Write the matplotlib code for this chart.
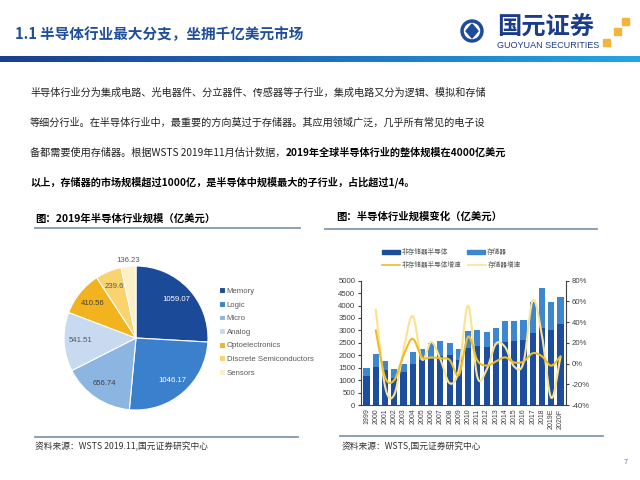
import numpy as np
import matplotlib.pyplot as plt
from matplotlib.patches import Patch, Circle, Rectangle, Polygon
from matplotlib.lines import Line2D
from matplotlib.colors import LinearSegmentedColormap

plt.rcParams['font.family'] = ['Noto Sans CJK SC', 'DejaVu Sans']

# ---- pie data ----
pie_labels = ['Memory', 'Logic', 'Micro', 'Analog', 'Optoelectronics',
              'Discrete Semiconductors', 'Sensors']
pie_values = [1059.07, 1046.17, 656.74, 541.51, 410.56, 239.6, 136.23]
pie_colors = ['#1A4A98', '#3B80CC', '#8DB5E2', '#C7DAF0', '#F2B31E', '#FAD36E', '#FDEFC6']

# ---- bar / line data ----
years = ['1999', '2000', '2001', '2002', '2003', '2004', '2005', '2006', '2007', '2008',
         '2009', '2010', '2011', '2012', '2013', '2014', '2015', '2016', '2017', '2018',
         '2019E', '2020F']
non_memory = [1170, 1540, 1400, 1100, 1320, 1640, 1800, 1860, 1960, 2010, 1800,
              2290, 2370, 2330, 2400, 2550, 2570, 2610, 2880, 3110, 3020, 3240]
memory = [330, 520, 380, 330, 340, 490, 470, 630, 600, 480, 460,
          700, 630, 590, 680, 830, 800, 800, 1270, 1610, 1110, 1120]
# growth rates start in 2000
non_memory_growth = [32, -13, -16, 8, 24, 6, 6, 5, 3.5, -11, 26, 3, -2, 2, 6, 1, 2, 10, 7, -2, 7]
memory_growth = [52, -22, -30, 13, 46, 4, 21, 4, -19, -6, 56, -13, -6, 19, 16, -3, 1, 61, 27, -33, 6]

W, H = 640, 480
LAT = 'Liberation Sans'


def fx(x):
    return x / W


def fy(y):
    return 1 - y / H


def smooth(x, y, n=20):
    # catmull-rom curve through the points, like excel's smoothed line
    x = np.asarray(x, float)
    y = np.asarray(y, float)
    px = np.r_[2 * x[0] - x[1], x, 2 * x[-1] - x[-2]]
    py = np.r_[2 * y[0] - y[1], y, 2 * y[-1] - y[-2]]
    xs, ys = [], []
    t = np.linspace(0, 1, n, endpoint=False)
    for i in range(1, len(px) - 2):
        for p, out in ((px, xs), (py, ys)):
            p0, p1, p2, p3 = p[i - 1], p[i], p[i + 1], p[i + 2]
            out.extend(0.5 * (2 * p1 + (-p0 + p2) * t + (2 * p0 - 5 * p1 + 4 * p2 - p3) * t ** 2
                              + (-p0 + 3 * p1 - 3 * p2 + p3) * t ** 3))
    xs.append(x[-1])
    ys.append(y[-1])
    return np.array(xs), np.array(ys)


fig = plt.figure(figsize=(6.4, 4.8), dpi=100)

# ---- header ----
fig.text(fx(15), fy(34), '1.1 半导体行业最大分支，坐拥千亿美元市场', fontsize=10.5,
         fontweight='bold', color='#1F4E9C', va='center')
gax = fig.add_axes([0, fy(62), 1, 6 / H])
grad = np.linspace(0, 1, 256).reshape(1, -1)
cmap = LinearSegmentedColormap.from_list('hdr', ['#1B3F8C', '#1F6FC0', '#22A6E6'])
gax.imshow(grad, aspect='auto', cmap=cmap)
gax.set_axis_off()

# logo
lax = fig.add_axes([0, 0, 1, 1], facecolor='none')
lax.set_xlim(0, W)
lax.set_ylim(H, 0)
lax.set_axis_off()
lax.add_patch(Circle((472, 31), 11, color='#1E4A9A'))
lax.add_patch(Circle((472, 31), 7.5, color='white'))
lax.add_patch(Polygon([(472, 24), (478, 31), (472, 38), (466, 31)], color='#1E4A9A'))
lax.text(497, 28, '国元证券', fontsize=17.5, fontweight='bold', color='#1A3C8A', va='center')
lax.text(497, 45, 'GUOYUAN SECURITIES', fontsize=6.5, color='#1A3C8A', va='center', family=LAT)
for sx, sy in [(622, 18), (614, 28), (603, 39)]:
    lax.add_patch(Rectangle((sx, sy), 6.5, 6.5, color='#F4B43A'))

# ---- body text ----
body_size = 7.3
fig.text(fx(30), fy(93), '半导体行业分为集成电路、光电器件、分立器件、传感器等子行业，集成电路又分为逻辑、模拟和存储',
         fontsize=body_size, color='#222222', va='center')
fig.text(fx(30), fy(123), '等细分行业。在半导体行业中，最重要的方向莫过于存储器。其应用领域广泛，几乎所有常见的电子设',
         fontsize=body_size, color='#222222', va='center')
t3 = fig.text(fx(30), fy(153), '备都需要使用存储器。根据WSTS 2019年11月估计数据，',
              fontsize=body_size, color='#222222', va='center')
renderer = fig.canvas.get_renderer()
bb = t3.get_window_extent(renderer)
fig.text(bb.x1 / fig.bbox.width, fy(153), '2019年全球半导体行业的整体规模在4000亿美元',
         fontsize=body_size, fontweight='bold', color='black', va='center')
fig.text(fx(30), fy(182), '以上，存储器的市场规模超过1000亿，是半导体中规模最大的子行业，占比超过1/4。',
         fontsize=body_size, fontweight='bold', color='black', va='center')

# ---- chart titles, rules, sources ----
rule = '#8497B0'
fig.text(fx(35), fy(219), '图：2019年半导体行业规模（亿美元）', fontsize=7.5, fontweight='bold', va='center')
fig.text(fx(336), fy(217), '图：半导体行业规模变化（亿美元）', fontsize=7.5, fontweight='bold', va='center')
lax.plot([35, 300], [228, 228], color=rule, lw=1.3)
lax.plot([35, 298], [437, 437], color=rule, lw=1.3)
lax.plot([325, 597], [229, 229], color=rule, lw=1.3)
lax.plot([340, 603], [436, 436], color=rule, lw=1.3)
fig.text(fx(35), fy(447), '资料来源：WSTS 2019.11,国元证券研究中心', fontsize=6.3, color='#333333', va='center')
fig.text(fx(342), fy(447), '资料来源：WSTS,国元证券研究中心', fontsize=6.3, color='#333333', va='center')
fig.text(fx(624), fy(462), '7', fontsize=5.5, color='#5A7FB0', va='center')

# ---- pie ----
cx, cy, r = 136, 338, 72
pax = fig.add_axes([fx(cx - r), fy(cy + r), 2 * r / W, 2 * r / H])
wedges, _ = pax.pie(pie_values, colors=pie_colors, startangle=90, counterclock=False,
                    wedgeprops=dict(edgecolor='white', linewidth=0.8))
pax.set_xlim(-1, 1)
pax.set_ylim(-1, 1)
label_colors = ['white', 'white', '#404040', '#595959', '#404040', '#595959', '#595959']
for w, v, c in zip(wedges, pie_values, label_colors):
    ang = np.deg2rad((w.theta1 + w.theta2) / 2)
    d = 1.08 if v < 200 else 0.77
    pax.text(d * np.cos(ang), d * np.sin(ang), f'{v:g}', ha='center', va='center',
             fontsize=5.6, color=c, family=LAT)
pax.legend(wedges, pie_labels, loc='center left', bbox_to_anchor=(fx(219), fy(332)),
           bbox_transform=fig.transFigure, frameon=False, borderpad=0, borderaxespad=0,
           handlelength=0.75, handleheight=0.75, handletextpad=0.25, labelspacing=0.78,
           labelcolor='#595959', prop={'family': LAT, 'size': 5.6})

# ---- bar + growth lines ----
x = np.arange(len(years))
bax = fig.add_axes([fx(361), fy(405), 205 / W, (405 - 280.7) / H])
bax.bar(x, non_memory, width=0.66, color='#1C4E9D', label='非存储器半导体')
bax.bar(x, memory, width=0.66, bottom=non_memory, color='#3D86D0', label='存储器')
bax.set_xlim(-0.6, len(years) - 0.4)
bax.set_ylim(0, 5000)
bax.set_yticks(range(0, 5001, 500))
bax.set_xticks(x)
bax.set_xticklabels(years, rotation=90, family=LAT)
bax.set_yticklabels([str(v) for v in range(0, 5001, 500)], family=LAT)
bax.tick_params(axis='x', length=0, pad=2.5, labelsize=5, labelcolor='#404040')
bax.tick_params(axis='y', length=2, pad=2, labelsize=5.6, labelcolor='#404040', color='#404040')
for s in ['top', 'right']:
    bax.spines[s].set_visible(False)
for s in ['left', 'bottom']:
    bax.spines[s].set_color('#404040')
    bax.spines[s].set_linewidth(0.8)

rax = bax.twinx()
gx1, gy1 = smooth(x[1:], non_memory_growth)
gx2, gy2 = smooth(x[1:], memory_growth)
rax.plot(gx2, gy2, color='#FBE38E', lw=1.5, label='存储器增速')
rax.plot(gx1, gy1, color='#EFBC2A', lw=1.5, label='非存储器半导体增速')
rax.set_ylim(-40, 80)
rax.set_yticks(range(-40, 81, 20))
rax.set_yticklabels([f'{v}%' for v in range(-40, 81, 20)], family=LAT)
rax.tick_params(axis='y', length=2, pad=2, labelsize=5.6, labelcolor='#404040', color='#404040')
for s in ['top', 'left', 'bottom']:
    rax.spines[s].set_visible(False)
rax.spines['right'].set_color('#404040')
rax.spines['right'].set_linewidth(0.8)

bar_handles = [Patch(color='#1C4E9D'), Patch(color='#3D86D0')]
fig.legend(bar_handles, ['非存储器半导体', '存储器'], loc='center left',
           bbox_to_anchor=(fx(382), fy(252)), ncol=2, frameon=False, fontsize=4.8,
           borderpad=0, borderaxespad=0,
           handlelength=2.7, handleheight=0.55, handletextpad=0.3, columnspacing=2.8,
           labelcolor='#595959')
fig.legend([Line2D([], [], color='#EFBC2A', lw=1.2), Line2D([], [], color='#FBE38E', lw=1.2)],
           ['非存储器半导体增速', '存储器增速'], loc='center left',
           bbox_to_anchor=(fx(382), fy(265)), ncol=2, frameon=False, fontsize=4.8,
           borderpad=0, borderaxespad=0,
           handlelength=2.7, handletextpad=0.3, columnspacing=1.0, labelcolor='#595959')

fig.savefig('out.png', dpi=100)
